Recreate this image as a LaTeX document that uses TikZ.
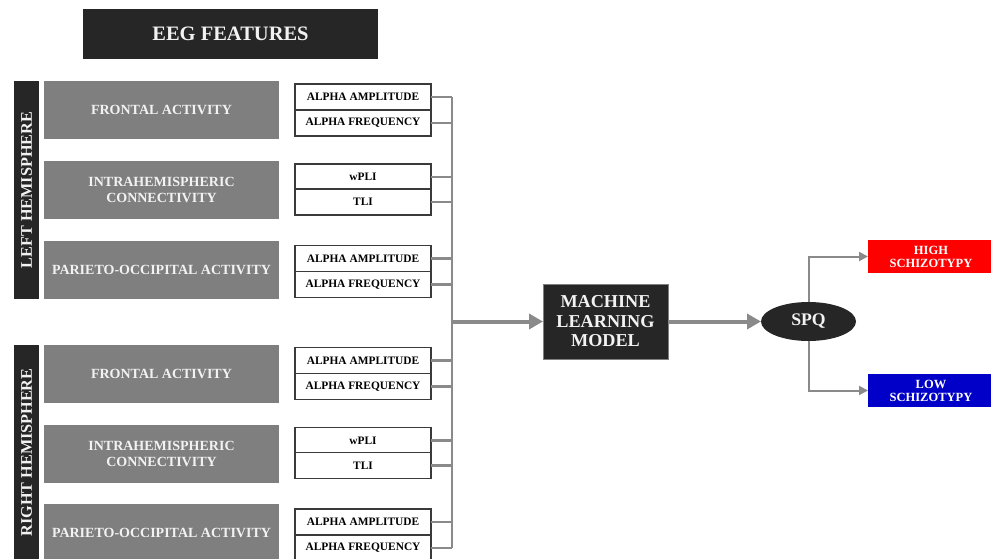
\documentclass[tikz,border=0pt]{standalone}
\usepackage{fontspec}
\setmainfont{Liberation Serif}
\usetikzlibrary{arrows.meta,shapes.geometric}
\definecolor{darkbox}{HTML}{262626}
\definecolor{graybox}{HTML}{7F7F7F}
\definecolor{conncol}{HTML}{8A8A8A}
\definecolor{wborder}{HTML}{3A3A3A}
\definecolor{lighttxt}{HTML}{F2F2F2}
\definecolor{hired}{HTML}{FF0000}
\definecolor{loblue}{HTML}{0000C8}
\tikzset{
  x=1pt, y=-1pt,
  every node/.style={inner sep=0pt, outer sep=0pt, font=\bfseries},
  titlebox/.style={fill=darkbox, text=lighttxt, minimum width=295pt, minimum height=50pt, font=\bfseries\fontsize{20.5}{22}\selectfont},
  hemibar/.style={fill=darkbox, text=lighttxt, minimum height=25pt, rotate=90, font=\bfseries\fontsize{16.2}{18}\selectfont},
  regionbox/.style={fill=graybox, text=lighttxt, minimum width=235pt, minimum height=58pt, align=center, font=\bfseries\fontsize{14}{15.2}\selectfont},
  featbox/.style={draw=wborder, line width=1.6pt, fill=white, text=black, minimum width=136pt, minimum height=26pt, font=\bfseries\fontsize{11.4}{13}\selectfont},
  conn/.style={draw=conncol, line width=2.2pt},
  bigarrow/.style={draw=conncol, line width=4pt, -{Triangle[length=14pt,width=15pt]}},
  smallarrow/.style={draw=conncol, line width=2pt, -{Triangle[length=9pt,width=9pt]}},
  modelbox/.style={fill=darkbox, draw=graybox, line width=0.8pt, text=lighttxt, minimum width=125pt, minimum height=75pt, align=center, font=\bfseries\fontsize{18.2}{19.5}\selectfont},
  spqnode/.style={ellipse, fill=darkbox, text=lighttxt, minimum width=95pt, minimum height=39pt, font=\bfseries\fontsize{17.7}{20}\selectfont},
  outbox/.style={minimum width=126pt, minimum height=33pt, text=white, align=center, font=\bfseries\fontsize{12.5}{13}\selectfont}
}
\begin{document}
\begin{tikzpicture}
\clip (0,0) rectangle (991,559);
\fill[white] (0,0) rectangle (991,559);

\node[titlebox] (title) at (230.5,34) {EEG FEATURES};

% hemisphere bars
\node[hemibar, minimum width=218pt] (lbar) at (26.5,190) {LEFT HEMISPHERE};
\node[hemibar, minimum width=215pt] (rbar) at (26.5,452.5) {RIGHT HEMISPHERE};

% region boxes
\node[regionbox] (lfront) at (161.5,110) {FRONTAL ACTIVITY};
\node[regionbox] (lintra) at (161.5,190) {INTRAHEMISPHERIC\\CONNECTIVITY};
\node[regionbox] (lpar) at (161.5,269.5) {PARIETO-OCCIPITAL ACTIVITY};
\node[regionbox] (rfront) at (161.5,374) {FRONTAL ACTIVITY};
\node[regionbox] (rintra) at (161.5,454) {INTRAHEMISPHERIC\\CONNECTIVITY};
\node[regionbox] (rpar) at (161.5,533) {PARIETO-OCCIPITAL ACTIVITY};

% feature boxes
\node[featbox] (f1) at (363,97) {ALPHA AMPLITUDE};
\node[featbox] (f2) at (363,123) {ALPHA FREQUENCY};
\node[featbox] (f3) at (363,177) {wPLI};
\node[featbox] (f4) at (363,202) {TLI};
\node[featbox] (f5) at (363,258.5) {ALPHA AMPLITUDE};
\node[featbox] (f6) at (363,284.5) {ALPHA FREQUENCY};
\node[featbox] (f7) at (363,360.5) {ALPHA AMPLITUDE};
\node[featbox] (f8) at (363,386.5) {ALPHA FREQUENCY};
\node[featbox] (f9) at (363,440.5) {wPLI};
\node[featbox] (f10) at (363,465.5) {TLI};
\node[featbox] (f11) at (363,522) {ALPHA AMPLITUDE};
\node[featbox] (f12) at (363,548) {ALPHA FREQUENCY};

% bus
\coordinate (bustop) at (452,97);
\coordinate (busbot) at (452,548);
\coordinate (busmid) at (452,321.5);
\draw[conn] (bustop) -- (busbot);
\foreach \f in {f1,f2,f3,f4,f5,f6,f7,f8,f9,f10,f11,f12}
  \draw[conn] (\f.east) -- (\f.east -| bustop);

% model and outputs
\node[modelbox] (model) at (605.5,321.5) {MACHINE\\LEARNING\\MODEL};
\node[spqnode] (spq) at (808.5,321.5) {SPQ};
\node[outbox, fill=hired] (high) at (931,256.5) {HIGH\\SCHIZOTYPY};
\node[outbox, fill=loblue] (low) at (931,390.5) {LOW\\SCHIZOTYPY};

\draw[bigarrow] (busmid) -- (model.west);
\draw[bigarrow] (model.east) -- (spq.west);
\draw[smallarrow] (spq.north) |- (high.west);
\draw[smallarrow] (spq.south) |- (low.west);
\end{tikzpicture}
\end{document}
